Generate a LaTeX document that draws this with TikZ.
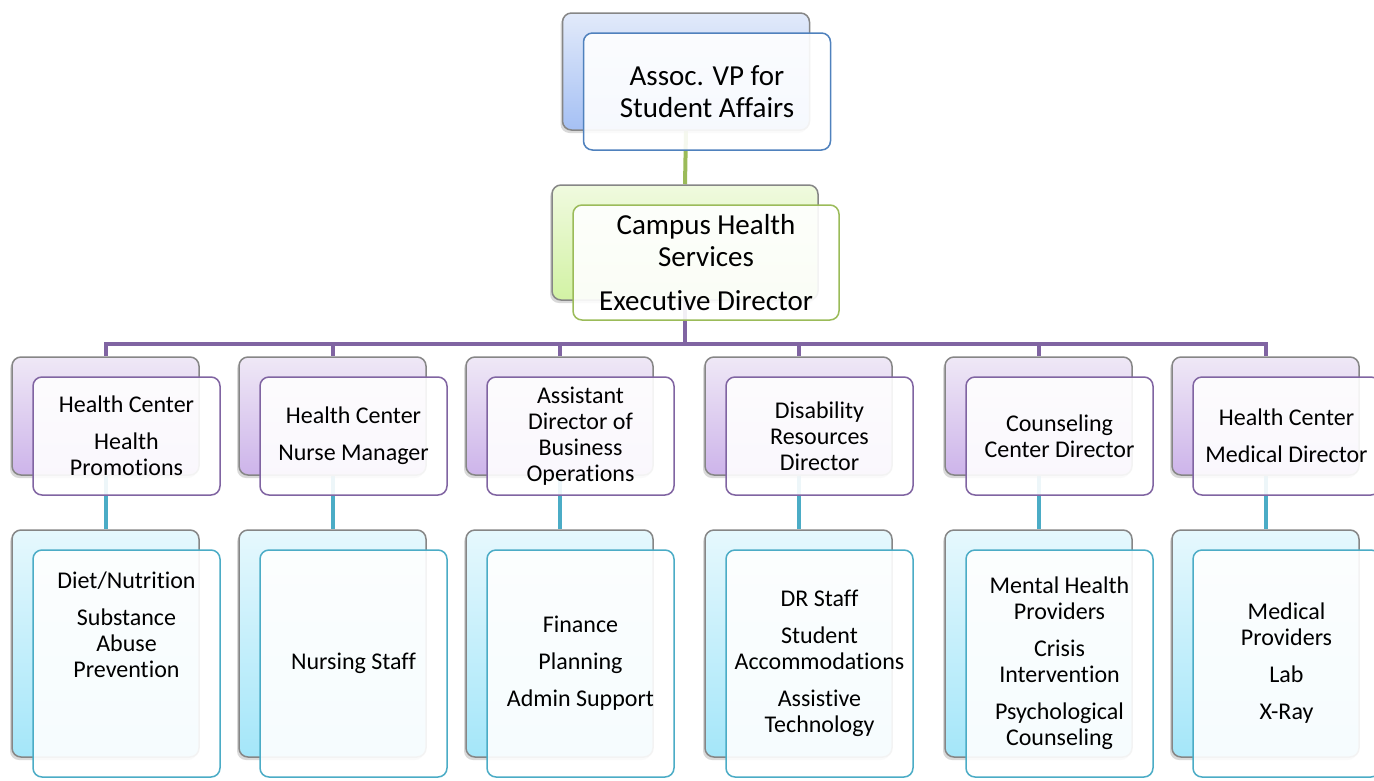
\documentclass[tikz,border=0pt]{standalone}
\usepackage{fontspec}
\setmainfont{Carlito}[Ligatures=NoCommon]
\usetikzlibrary{shadows,backgrounds}
\definecolor{vpline}{HTML}{4F81BD}
\definecolor{chsline}{HTML}{9BBB59}
\definecolor{dirline}{HTML}{8064A2}
\definecolor{staffline}{HTML}{4BACC6}
\definecolor{vptop}{HTML}{E2EAFA}
\definecolor{vpbottom}{HTML}{A5C0F4}
\definecolor{chstop}{HTML}{F0FADF}
\definecolor{chsbottom}{HTML}{D2F2A4}
\definecolor{dirtop}{HTML}{EFE8F6}
\definecolor{dirbottom}{HTML}{CDB4EA}
\definecolor{stafftop}{HTML}{E6F8FD}
\definecolor{staffbottom}{HTML}{A4E6F9}
\tikzset{
  backbox/.style={draw=gray!95, line width=1.5pt, rounded corners=9pt, inner sep=0pt,
    drop shadow={shadow xshift=-2pt, shadow yshift=-3pt, opacity=.3}},
  frontbox/.style={fill=white, fill opacity=.9, text opacity=1, line width=1.5pt,
    rounded corners=9pt, inner sep=0pt, align=center, xshift=21pt, yshift=-20pt},
  bigtext/.style={font=\fontsize{29}{32}\selectfont},
  smalltext/.style={font=\fontsize{24}{26}\selectfont},
  vpsize/.style={minimum width=247pt, minimum height=117pt},
  chssize/.style={minimum width=266pt, minimum height=115pt},
  dirsize/.style={minimum width=187pt, minimum height=118pt},
  staffsize/.style={minimum width=187pt, minimum height=227pt},
  conn/.style={line width=4pt}
}
\begin{document}
\begin{tikzpicture}[x=1pt, y=-1pt]
  \useasboundingbox (0,0) rectangle (1374,780);
  \clip (0,0) rectangle (1374,780);
  % top two levels
  \node[backbox, vpsize, top color=vptop, bottom color=vpbottom] (vpb) at (686,71.5) {};
  \node[frontbox, vpsize, draw=vpline, bigtext] (vp) at (vpb) {Assoc. VP for\\Student Affairs};
  \node[backbox, chssize, top color=chstop, bottom color=chsbottom] (chsb) at (685,242.5) {};
  \node[frontbox, chssize, draw=chsline, bigtext] (chs) at (chsb) {Campus Health\\Services\\[12pt]Executive Director};
  % back boxes of the directors and their staff
  \foreach \x [count=\i] in {105.5,332.5,559.5,798.5,1038.5,1265.5} {
    \node[backbox, dirsize, top color=dirtop, bottom color=dirbottom] (db\i) at (\x,416) {};
    \node[backbox, staffsize, top color=stafftop, bottom color=staffbottom] (sb\i) at (\x,643.5) {};
  }
  % directors
  \node[frontbox, dirsize, draw=dirline, smalltext] (hp) at (db1) {Health Center\\[11pt]Health\\Promotions};
  \node[frontbox, dirsize, draw=dirline, smalltext] (nm) at (db2) {Health Center\\[11pt]Nurse Manager};
  \node[frontbox, dirsize, draw=dirline, smalltext] (bo) at (db3) {Assistant\\Director of\\Business\\Operations};
  \node[frontbox, dirsize, draw=dirline, smalltext] (dr) at (db4) {Disability\\Resources\\Director};
  \node[frontbox, dirsize, draw=dirline, smalltext] (cc) at (db5) {Counseling\\Center Director};
  \node[frontbox, dirsize, draw=dirline, smalltext] (md) at (db6) {Health Center\\[11pt]Medical Director};
  % staff
  \node[frontbox, staffsize, draw=staffline, smalltext] (hpstaff) at (sb1) {Diet/Nutrition\\[11pt]Substance\\Abuse\\Prevention\\[51pt]~};
  \node[frontbox, staffsize, draw=staffline, smalltext] (nmstaff) at (sb2) {Nursing Staff};
  \node[frontbox, staffsize, draw=staffline, smalltext] (bostaff) at (sb3) {Finance\\[11pt]Planning\\[11pt]Admin Support};
  \node[frontbox, staffsize, draw=staffline, smalltext] (drstaff) at (sb4) {DR Staff\\[11pt]Student\\Accommodations\\[11pt]Assistive\\Technology};
  \node[frontbox, staffsize, draw=staffline, smalltext] (ccstaff) at (sb5) {Mental Health\\Providers\\[11pt]Crisis\\Intervention\\[11pt]Psychological\\Counseling};
  \node[frontbox, staffsize, draw=staffline, smalltext] (mdstaff) at (sb6) {Medical\\Providers\\[11pt]Lab\\[11pt]X-Ray};
  % connectors
  \begin{pgfonlayer}{background}
    \draw[conn, chsline] (vpb.south) -- (chsb.north);
    \foreach \i in {1,...,6} {
      \draw[conn, dirline] (chsb.south) -- ++(0,43) -| (db\i.north);
      \draw[conn, staffline] (db\i.south) -- (sb\i.north);
    }
  \end{pgfonlayer}
\end{tikzpicture}
\end{document}
